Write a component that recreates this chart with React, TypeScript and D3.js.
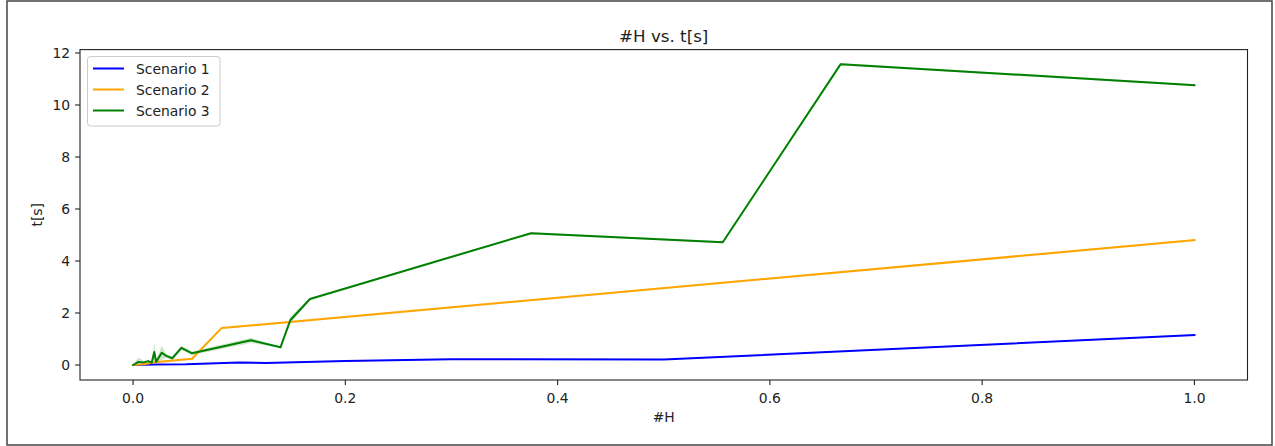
import React from "react";
import * as d3 from "d3";

const s1X = [0, 0.02, 0.05, 0.1, 0.125, 0.2, 0.3, 0.5, 1.0];
const s1Y = [0, 0.02, 0.03, 0.1, 0.08, 0.15, 0.22, 0.21, 1.15];
const s1Lo = [0, 0.01, 0.02, 0.08, 0.06, 0.13, 0.2, 0.19, 1.13];
const s1Hi = [0, 0.03, 0.04, 0.12, 0.1, 0.17, 0.24, 0.23, 1.17];

const s2X = [0, 0.01, 0.019, 0.03, 0.0556, 0.0833, 1.0];
const s2Y = [0, 0.03, 0.1, 0.14, 0.24, 1.42, 4.8];
const s2Lo = [0, 0.01, 0.06, 0.1, 0.2, 1.38, 4.76];
const s2Hi = [0, 0.05, 0.14, 0.18, 0.28, 1.46, 4.84];

const s3X = [0, 0.005, 0.01, 0.0143, 0.0175, 0.02, 0.0217, 0.027, 0.0312, 0.037, 0.0455, 0.0556, 0.1111, 0.1389, 0.1481, 0.1667, 0.375, 0.5556, 0.6667, 1.0];
const s3Y = [0, 0.12, 0.1, 0.15, 0.09, 0.5, 0.12, 0.47, 0.35, 0.26, 0.66, 0.45, 0.95, 0.68, 1.72, 2.54, 5.07, 4.72, 11.57, 10.76];
const s3Lo = [0, 0.02, 0.05, 0.1, 0.05, 0.15, 0.08, 0.2, 0.28, 0.2, 0.58, 0.38, 0.85, 0.66, 1.58, 2.5, 5.03, 4.68, 11.53, 10.72];
const s3Hi = [0, 0.3, 0.15, 0.2, 0.13, 0.85, 0.16, 0.75, 0.42, 0.32, 0.74, 0.52, 1.05, 0.7, 1.86, 2.58, 5.11, 4.76, 11.61, 10.8];

const seriesNames = ["Scenario 1", "Scenario 2", "Scenario 3"];
const seriesColors = ["#0000ff", "#ffa500", "#008000"];
const xTicks = [0, 0.2, 0.4, 0.6, 0.8, 1.0];
const yTicks = [0, 2, 4, 6, 8, 10, 12];

const W = 1275;
const H = 446;
const L = 80, R = 1247.5, T = 49.6, B = 380;
const FONT = "DejaVu Sans, sans-serif";

export default function App() {
  const x = d3.scaleLinear().domain([-0.05, 1.05]).range([L, R]);
  const y = d3.scaleLinear().domain([-0.577, 12.13]).range([B, T]);

  const series = [
    { xs: s1X, ys: s1Y, lo: s1Lo, hi: s1Hi },
    { xs: s2X, ys: s2Y, lo: s2Lo, hi: s2Hi },
    { xs: s3X, ys: s3Y, lo: s3Lo, hi: s3Hi },
  ];

  const line = d3
    .line<[number, number]>()
    .x((d) => x(d[0]))
    .y((d) => y(d[1]));
  const area = d3
    .area<[number, number, number]>()
    .x((d) => x(d[0]))
    .y0((d) => y(d[1]))
    .y1((d) => y(d[2]));

  return (
    <svg
      width={W}
      height={H}
      style={{ position: "absolute", left: 0, top: 0, background: "#fff" }}
      fontFamily={FONT}
    >
      <rect x={0} y={0} width={W} height={H} fill="#fff" />
      <rect x={7} y={1} width={1265} height={444} fill="none" stroke="#444" strokeWidth={1.5} />
      <defs>
        <clipPath id="plotclip">
          <rect x={L} y={T} width={R - L} height={B - T} />
        </clipPath>
      </defs>
      <g clipPath="url(#plotclip)">
        {series.map((s, i) => (
          <path
            key={"band" + i}
            d={area(s.xs.map((v, k) => [v, s.lo[k], s.hi[k]] as [number, number, number])) || ""}
            fill={seriesColors[i]}
            fillOpacity={0.2}
            stroke="none"
          />
        ))}
        {series.map((s, i) => (
          <path
            key={"line" + i}
            d={line(s.xs.map((v, k) => [v, s.ys[k]] as [number, number])) || ""}
            fill="none"
            stroke={seriesColors[i]}
            strokeWidth={2}
            strokeLinejoin="round"
            strokeLinecap="square"
          />
        ))}
      </g>
      <rect x={L} y={T} width={R - L} height={B - T} fill="none" stroke="#222" strokeWidth={1.1} />
      {xTicks.map((t) => (
        <g key={"xt" + t}>
          <line x1={x(t)} x2={x(t)} y1={B} y2={B + 4.9} stroke="#222" strokeWidth={1.1} />
          <text x={x(t)} y={B + 22.5} textAnchor="middle" fontSize={13.9} fill="#222">
            {t.toFixed(1)}
          </text>
        </g>
      ))}
      {yTicks.map((t) => (
        <g key={"yt" + t}>
          <line x1={L - 4.9} x2={L} y1={y(t)} y2={y(t)} stroke="#222" strokeWidth={1.1} />
          <text x={L - 9.8} y={y(t) + 5} textAnchor="end" fontSize={13.9} fill="#222">
            {t}
          </text>
        </g>
      ))}
      <text x={(L + R) / 2} y={422} textAnchor="middle" fontSize={13.9} fill="#222">
        #H
      </text>
      <text
        transform={`translate(42,${(T + B) / 2}) rotate(-90)`}
        textAnchor="middle"
        fontSize={13.9}
        fill="#222"
      >
        t[s]
      </text>
      <text x={(L + R) / 2} y={41.5} textAnchor="middle" fontSize={16.7} fill="#222">
        #H vs. t[s]
      </text>
      <g>
        <rect x={87.5} y={56.5} width={132.5} height={69.5} rx={3} fill="#fff" fillOpacity={0.8} stroke="#ccc" strokeWidth={1} />
        {seriesNames.map((n, i) => (
          <g key={n}>
            <line x1={93} x2={124} y1={68.5 + i * 21} y2={68.5 + i * 21} stroke={seriesColors[i]} strokeWidth={2} />
            <text x={136} y={68.5 + i * 21 + 5} fontSize={13.9} fill="#222">
              {n}
            </text>
          </g>
        ))}
      </g>
    </svg>
  );
}
